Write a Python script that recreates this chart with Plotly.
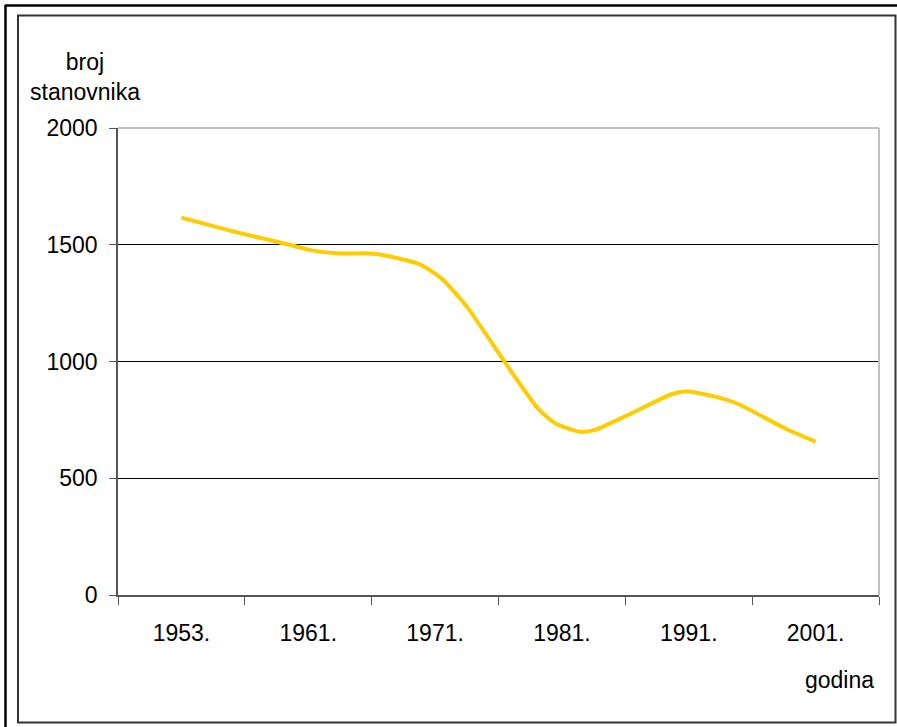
import plotly.graph_objects as go

# Category labels on the x axis
categories = ["1953.", "1961.", "1971.", "1981.", "1991.", "2001."]
category_index = [0, 1, 2, 3, 4, 5]

# Points (x in category units, y = population)
curve_pos = [0.0, 0.44, 0.86, 1.01, 1.25, 1.49, 1.62, 1.88, 2.05, 2.25, 2.55,
             2.815, 2.946, 3.14, 3.26, 3.51, 3.87, 4.0, 4.26, 4.39, 4.77, 5.0]
curve_val = [1616, 1553, 1499, 1478, 1463, 1463, 1453, 1416, 1356, 1235, 997,
             796, 736, 699, 707, 768, 861, 871, 842, 818, 711, 657]

y_ticks = [0, 500, 1000, 1500, 2000]

W, H = 897, 727
L, R, T, B = 118, 879, 128, 595


def px(x):
    return (x - L) / (R - L)


def py(y):
    return (B - y) / (B - T)


FONT = "Arial, Liberation Sans, sans-serif"
AXIS_COL = "#555555"

fig = go.Figure()
fig.add_trace(go.Scatter(
    x=curve_pos, y=curve_val, mode="lines",
    line=dict(color="#FFCC00", width=4, shape="spline", smoothing=0.6),
    hoverinfo="skip", showlegend=False,
))

fig.update_layout(
    width=W, height=H,
    margin=dict(l=L, r=W - R, t=T, b=H - B, pad=0),
    paper_bgcolor="white", plot_bgcolor="white",
    font=dict(family=FONT, size=23, color="black"),
    showlegend=False,
    xaxis=dict(
        range=[-0.5, 5.5], tickmode="array", tickvals=category_index,
        ticktext=categories, ticks="", showgrid=False, zeroline=False,
        showline=True, linecolor=AXIS_COL, linewidth=1.5,
        ticklabelstandoff=17,
        minor=dict(tickmode="linear", tick0=-0.5, dtick=1, ticks="outside",
                   ticklen=8, tickcolor=AXIS_COL, tickwidth=1, showgrid=False),
        fixedrange=True,
    ),
    yaxis=dict(
        range=[0, 2000], tickmode="array", tickvals=y_ticks,
        ticks="outside", ticklen=7, tickcolor=AXIS_COL, tickwidth=1,
        showgrid=True, gridcolor="#000000", gridwidth=1,
        zeroline=False, showline=True, linecolor=AXIS_COL, linewidth=1.5,
        ticklabelstandoff=7, fixedrange=True,
    ),
    shapes=[
        dict(type="line", xref="paper", yref="paper", x0=0, x1=1, y0=1, y1=1,
             line=dict(color="#C0C0C0", width=2), layer="above"),
        dict(type="line", xref="paper", yref="paper", x0=1, x1=1, y0=0, y1=1,
             line=dict(color="#C0C0C0", width=2), layer="above"),
        dict(type="rect", xref="paper", yref="paper",
             x0=px(18), x1=px(895.5), y0=py(15.5), y1=py(722.5),
             line=dict(color="#333333", width=2), layer="above"),
        dict(type="line", xref="paper", yref="paper",
             x0=px(5), x1=px(897), y0=py(5.5), y1=py(5.5),
             line=dict(color="#000000", width=2.5), layer="above"),
        dict(type="line", xref="paper", yref="paper",
             x0=px(5.5), x1=px(5.5), y0=py(5), y1=py(727),
             line=dict(color="#000000", width=2.5), layer="above"),
    ],
    annotations=[
        dict(text="broj<br>stanovnika", xref="paper", yref="paper",
             x=px(85), y=py(77), xanchor="center", yanchor="middle",
             showarrow=False, align="center", font=dict(size=23)),
        dict(text="godina", xref="paper", yref="paper",
             x=px(876), y=py(680), xanchor="right", yanchor="middle",
             showarrow=False, font=dict(size=23)),
    ],
)

fig.write_html(
    "out.html",
    config={"displayModeBar": False},
    post_script="document.body.style.margin='0';document.body.style.overflow='hidden';",
)
